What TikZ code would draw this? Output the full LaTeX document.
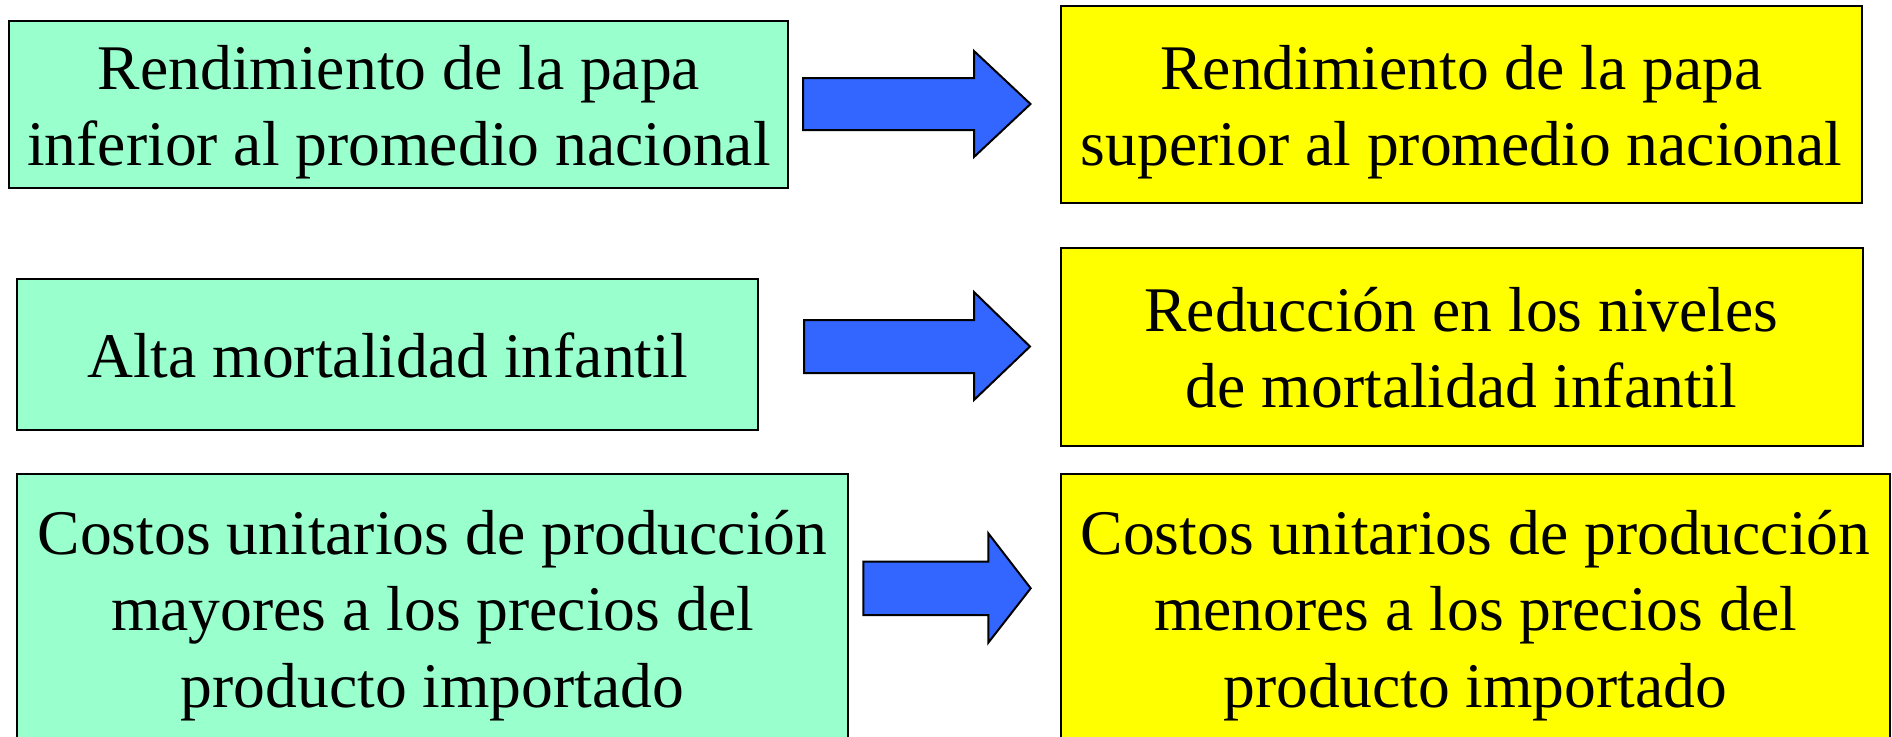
\documentclass[tikz,border=0pt]{standalone}
\usepackage{fontspec}
\setmainfont{Liberation Serif}
\definecolor{boxgreen}{HTML}{99FFCC}
\definecolor{boxyellow}{HTML}{FFFF00}
\definecolor{arrowblue}{HTML}{3366FF}
\tikzset{
  gbox/.style={draw=black, line width=1pt, fill=boxgreen},
  ybox/.style={draw=black, line width=1pt, fill=boxyellow},
  barrow/.style={draw=black, line width=1pt, fill=arrowblue, line join=miter},
  txt/.style={anchor=base, inner sep=0pt, font=\fontsize{31.8pt}{38.25pt}\selectfont},
}
\newcommand{\lns}[1]{\begin{tabular}[t]{@{}c@{}}#1\end{tabular}}
\begin{document}
\begin{tikzpicture}[x=0.5pt, y=-0.5pt]
\useasboundingbox (0,0) rectangle (1892,736);
\clip (0,0) rectangle (1892,736);
\fill[white] (0,0) rectangle (1892,736);
% row 1
\path[gbox] (9,21) rectangle (788,188);
\coordinate (g1c) at (398.5,104.5);
\path[ybox] (1061,6) rectangle (1862,202.5);
\coordinate (y1c) at (1461.5,104);
\node[txt] (g1t) at (399,89.3) {\lns{Rendimiento de la papa\\inferior al promedio nacional}};
\node[txt] (y1t) at (1461.5,89.3) {\lns{Rendimiento de la papa\\superior al promedio nacional}};
\path[barrow] (803,78) -- (974,78) -- (974,51) -- (1030.5,104) -- (974,157) -- (974,130) -- (803,130) -- cycle;
% row 2
\path[gbox] (17,278.5) rectangle (758,430);
\path[ybox] (1061,248) rectangle (1862.5,445.5);
\node[txt] (g2t) at (387.5,377.3) {\lns{Alta mortalidad infantil}};
\node[txt] (y2t) at (1461.5,331) {\lns{Reducción en los niveles\\de mortalidad infantil}};
\path[barrow] (804,320) -- (974,320) -- (974,292) -- (1030,346.5) -- (974,400) -- (974,373) -- (804,373) -- cycle;
% row 3
\path[gbox] (17,474) rectangle (848.3,760);
\path[ybox] (1061,474) rectangle (1890,760);
\node[txt] (g3t) at (432.5,554) {\lns{Costos unitarios de producción\\mayores a los precios del\\producto importado}};
\node[txt] (y3t) at (1475.5,554) {\lns{Costos unitarios de producción\\menores a los precios del\\producto importado}};
\path[barrow] (863.3,561.7) -- (988.3,561.7) -- (988.3,533.3) -- (1030.7,588.3) -- (988.3,642.7) -- (988.3,615) -- (863.3,615) -- cycle;
\end{tikzpicture}
\end{document}
